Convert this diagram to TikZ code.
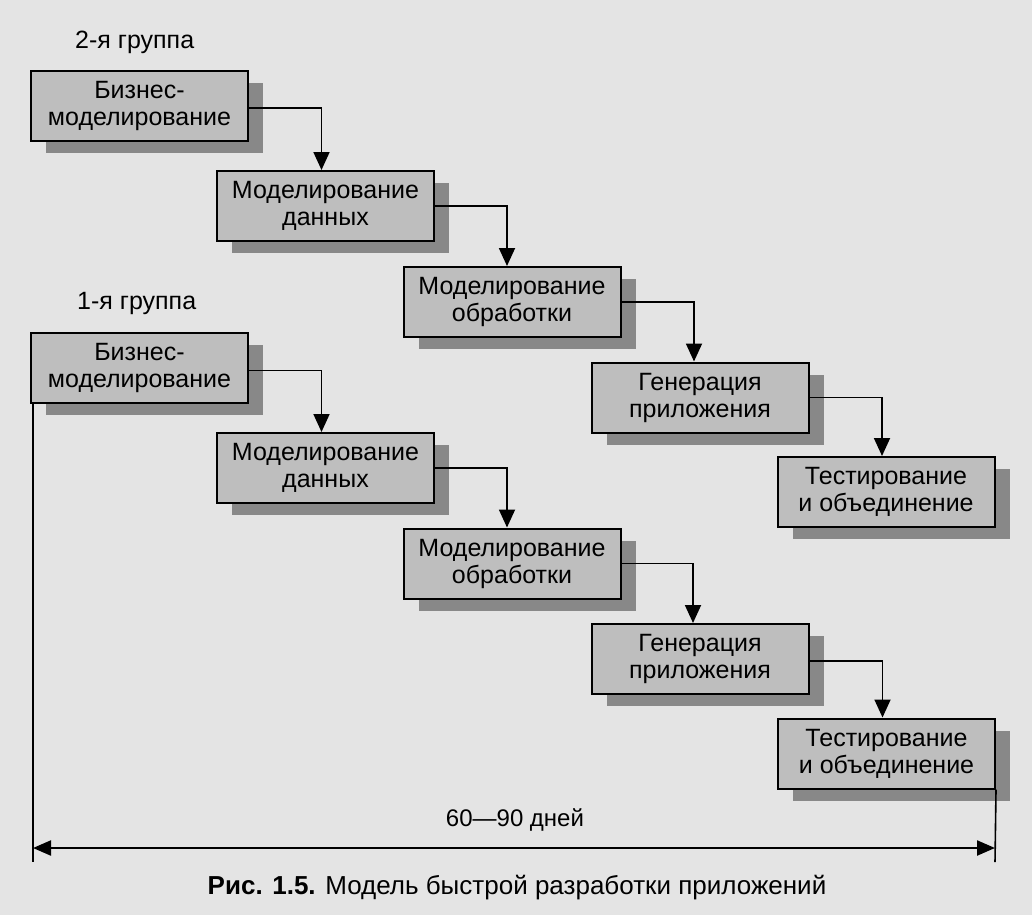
\documentclass[tikz,border=0pt]{standalone}
\usepackage{fontspec}
\setmainfont{Liberation Sans}
\usetikzlibrary{arrows.meta,shadows}
\definecolor{paper}{HTML}{E4E4E4}
\definecolor{boxgray}{HTML}{BEBEBE}
\definecolor{shadowgray}{HTML}{888888}
\tikzset{
  stage/.style={draw=black, line width=2pt, fill=boxgray, rectangle,
    minimum width=217pt, minimum height=70pt, inner sep=0pt, align=center,
    font=\fontsize{25}{27}\selectfont,
    general shadow={fill=shadowgray, shadow xshift=15pt, shadow yshift=-12pt}},
  flow/.style={line width=1.8pt, -{Triangle[length=18pt,width=16pt]}},
  grouplabel/.style={font=\fontsize{25}{27}\selectfont, anchor=west, inner sep=0pt},
  dimline/.style={line width=1.6pt},
  dimarrow/.style={line width=2.2pt, {Triangle[length=18pt,width=15pt]}-{Triangle[length=18pt,width=15pt]}},
}
\begin{document}
\begin{tikzpicture}[x=1pt,y=-1pt]
\fill[paper] (0,0) rectangle (1032,915);
\useasboundingbox (0,0) rectangle (1032,915);

\node[grouplabel] (g2) at (75,42) {2-я группа};
\node[grouplabel] (g1) at (77,303) {1-я группа};

% group 2
\node[stage] (B1) at (139.5,106) {Бизнес-\\моделирование};
\node[stage] (B2) at (325.5,206) {Моделирование\\данных};
\node[stage] (B3) at (512,302) {Моделирование\\обработки};
\node[stage] (B4) at (700,397.5) {Генерация\\приложения};
\node[stage] (B5) at (886,492) {Тестирование\\и объединение};

% group 1
\node[stage] (A1) at (139.5,367.5) {Бизнес-\\моделирование};
\node[stage] (A2) at (325.5,468) {Моделирование\\данных};
\node[stage] (A3) at (512,563.5) {Моделирование\\обработки};
\node[stage] (A4) at (700,659) {Генерация\\приложения};
\node[stage] (A5) at (886.5,753.5) {Тестирование\\и объединение};

\draw[flow] ([yshift=-2pt]B1.east) -| ([xshift=-4pt]B2.north);
\draw[flow] (B2.east) -| ([xshift=-5pt]B3.north);
\draw[flow] (B3.east) -| ([xshift=-6pt]B4.north);
\draw[flow] (B4.east) -| ([xshift=-4pt]B5.north);

\draw[flow] ([yshift=-3pt]A1.east) -| ([xshift=-4pt]A2.north);
\draw[flow] (A2.east) -| ([xshift=-5pt]A3.north);
\draw[flow] (A3.east) -| ([xshift=-7pt]A4.north);
\draw[flow] ([yshift=-2pt]A4.east) -| ([xshift=-4pt]A5.north);

% duration
\coordinate (Lb) at (33,862);
\coordinate (Rb) at (995,862);
\coordinate (La) at (33,848);
\coordinate (Ra) at (995,848);
\draw[dimline] (A1.south west -| La) -- (Lb);
\draw[dimline] (A5.south east) -- (Rb);
\draw[dimarrow] (La) -- (Ra);
\node[font=\fontsize{24}{26}\selectfont] (dur) at (515,820) {60—90 дней};

\node[font=\fontsize{26}{28}\selectfont] (cap) at (517,888) {\textbf{Рис. 1.5.} Модель быстрой разработки приложений};
\end{tikzpicture}
\end{document}
